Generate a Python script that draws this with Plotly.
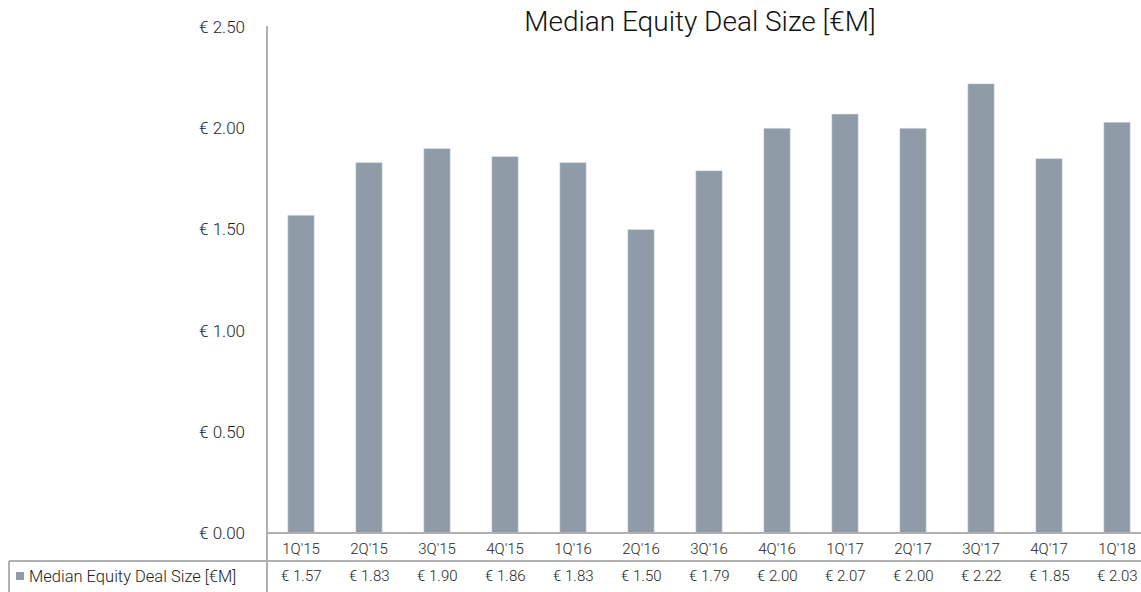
import plotly.graph_objects as go

quarters = ["1Q'15", "2Q'15", "3Q'15", "4Q'15", "1Q'16", "2Q'16", "3Q'16",
            "4Q'16", "1Q'17", "2Q'17", "3Q'17", "4Q'17", "1Q'18"]
deal_size = [1.57, 1.83, 1.90, 1.86, 1.83, 1.50, 1.79, 2.00, 2.07, 2.00, 2.22, 1.85, 2.03]
y_ticks = [0, 0.5, 1.0, 1.5, 2.0, 2.5]
series_name = "Median Equity Deal Size [€M]"

W, H = 1141, 592
L, T, B = 267, 27, 59
plot_w = W - L
plot_h = H - T - B
bar_color = "#8f9ca8"
line_color = "#b0b0b0"
text_color = "#1e1e1e"
font = "Roboto, Arial, sans-serif"


def px_to_paper_y(py):
    # pixel row -> paper coordinate
    return (H - B - py) / plot_h


def px_to_paper_x(px):
    return (px - L) / plot_w


fig = go.Figure()
fig.add_trace(go.Bar(x=list(range(len(quarters))), y=deal_size, marker_color=bar_color,
                     width=0.39, showlegend=False, hoverinfo="skip"))

# data table: values row
for i, v in enumerate(deal_size):
    fig.add_annotation(x=i, y=px_to_paper_y(576), xref="x", yref="paper",
                       xanchor="center", yanchor="middle",
                       text="€ %.2f" % v, showarrow=False,
                       font=dict(size=15, color=text_color, family=font, weight=300))

# legend key + series label in table
fig.add_annotation(x=px_to_paper_x(27), y=px_to_paper_y(576), xref="paper", yref="paper",
                   xanchor="left", yanchor="middle", text=series_name, showarrow=False,
                   font=dict(size=16.5, color=text_color, family=font, weight=300))
fig.add_shape(type="rect", xref="paper", yref="paper",
              x0=px_to_paper_x(16), x1=px_to_paper_x(24),
              y0=px_to_paper_y(580), y1=px_to_paper_y(572),
              fillcolor=bar_color, line_width=0)

# table grid lines
lines = [
    (L, T - 1, L, H),          # vertical axis line through table
    (L, H - B, W, H - B),      # category axis
    (9, 561, W, 561),          # row separator
    (9, 561, 9, H),            # left border of series row
]
for x0, y0, x1, y1 in lines:
    fig.add_shape(type="line", xref="paper", yref="paper",
                  x0=px_to_paper_x(x0), x1=px_to_paper_x(x1),
                  y0=px_to_paper_y(y0), y1=px_to_paper_y(y1),
                  line=dict(color=line_color, width=2))

fig.update_layout(
    width=W, height=H,
    margin=dict(l=L, r=0, t=T, b=B),
    plot_bgcolor="white", paper_bgcolor="white",
    title=dict(text="Median Equity Deal Size [€M]", x=700 / W, xanchor="center",
               y=1 - 21 / H, yanchor="middle",
               font=dict(size=28, color="#111111", family=font, weight=300)),
    font=dict(family=font, color=text_color),
    xaxis=dict(range=[-0.5, -0.5 + plot_w / 68.0], tickvals=list(range(len(quarters))),
               ticktext=quarters, showgrid=False, zeroline=False, showline=False,
               ticks="", ticklabelstandoff=5,
               tickfont=dict(size=15, color=text_color, weight=300)),
    yaxis=dict(range=[0, 2.5], tickvals=y_ticks,
               ticktext=["€ %.2f" % t for t in y_ticks], showgrid=False, zeroline=False,
               showline=False, ticks="", ticklabelstandoff=21,
               tickfont=dict(size=17, color=text_color, weight=300)),
    bargap=0.61,
)

fig.write_html("out.html", config={"displayModeBar": False},
               post_script="document.body.style.margin='0';")
